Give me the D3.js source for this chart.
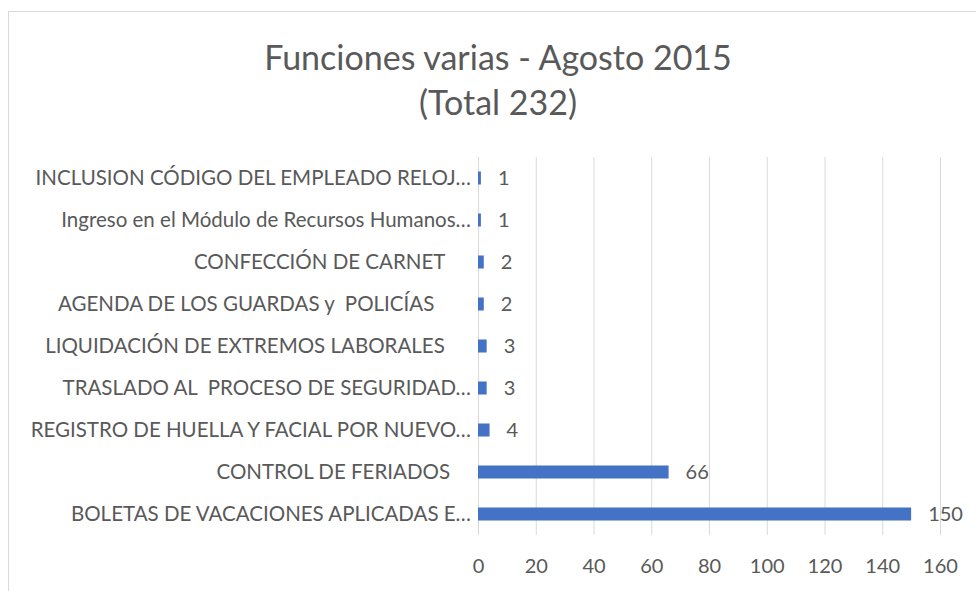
<!DOCTYPE html>
<html>
<head>
<meta charset="utf-8">
<script src="https://cdn.jsdelivr.net/npm/d3@7"></script>
<style>
  body { margin: 0; background: #fff; }
  svg text { font-family: Lato, "Open Sans", sans-serif; fill: #595959; white-space: pre; }
</style>
</head>
<body>
<div id="chart"></div>
<script>
// categories top to bottom, as in the picture (trailing spaces kept from the sheet)
const categories = [
    "INCLUSION CÓDIGO DEL EMPLEADO RELOJ…",
    "Ingreso en el Módulo de Recursos Humanos…",
    "CONFECCIÓN DE CARNET     ",
    "AGENDA DE LOS GUARDAS y  POLICÍAS       ",
    "LIQUIDACIÓN DE EXTREMOS LABORALES     ",
    "TRASLADO AL  PROCESO DE SEGURIDAD…",
    "REGISTRO DE HUELLA Y FACIAL POR NUEVO…",
    "CONTROL DE FERIADOS    ",
    "BOLETAS DE VACACIONES APLICADAS E…"
];
const values = [1, 1, 2, 2, 3, 3, 4, 66, 150];
const xTicks = [0, 20, 40, 60, 80, 100, 120, 140, 160];
const titleLines = ["Funciones varias - Agosto 2015", "(Total 232)"];

const width = 976, height = 591;
const plot = {left: 478, right: 940, top: 157, bottom: 535};

const svg = d3.select("#chart").append("svg")
    .attr("width", width)
    .attr("height", height);

// chart frame
svg.append("rect")
    .attr("x", 8.5).attr("y", 11.5)
    .attr("width", width).attr("height", height)
    .attr("fill", "#fff")
    .attr("stroke", "#d9d9d9");

// title
svg.selectAll(".title").data(titleLines).enter()
    .append("text")
    .attr("class", "title")
    .attr("x", 498)
    .attr("y", (d, i) => 70 + i * 45)
    .attr("text-anchor", "middle")
    .style("font-size", "34px")
    .text(d => d);

const x = d3.scaleLinear().domain([0, 160]).range([plot.left, plot.right]);
const y = d3.scaleBand().domain(categories)
    .range([plot.top, plot.bottom])
    .paddingInner(0.69)
    .paddingOuter(0.345);

// gridlines
svg.append("g").selectAll("line").data(xTicks).enter()
    .append("line")
    .attr("x1", d => x(d) + 0.5).attr("x2", d => x(d) + 0.5)
    .attr("y1", plot.top).attr("y2", plot.bottom)
    .attr("stroke", "#d9d9d9");

// x tick labels
const xAxis = d3.axisBottom(x).tickValues(xTicks).tickSize(0).tickPadding(0);
const xg = svg.append("g")
    .attr("transform", `translate(0, ${plot.bottom + 24})`)
    .call(xAxis);
xg.select(".domain").remove();
xg.selectAll("text")
    .attr("dy", "0.71em")
    .style("font-size", "20px")
    .attr("fill", "#595959");

// category labels
const yAxis = d3.axisLeft(y).tickSize(0).tickPadding(7);
const yg = svg.append("g")
    .attr("transform", `translate(${plot.left}, 0)`)
    .call(yAxis);
yg.select(".domain").remove();
yg.selectAll("text")
    .style("font-size", "20.5px")
    .attr("fill", "#595959");

// bars
svg.append("g").selectAll("rect").data(values).enter()
    .append("rect")
    .attr("x", x(0))
    .attr("y", (d, i) => y(categories[i]))
    .attr("width", d => x(d) - x(0))
    .attr("height", y.bandwidth())
    .attr("fill", "#4472c4");

// value labels
svg.append("g").selectAll("text").data(values).enter()
    .append("text")
    .attr("x", d => x(d) + 17)
    .attr("y", (d, i) => y(categories[i]) + y.bandwidth() / 2)
    .attr("dy", "0.35em")
    .style("font-size", "20px")
    .text(d => d);
</script>
</body>
</html>
